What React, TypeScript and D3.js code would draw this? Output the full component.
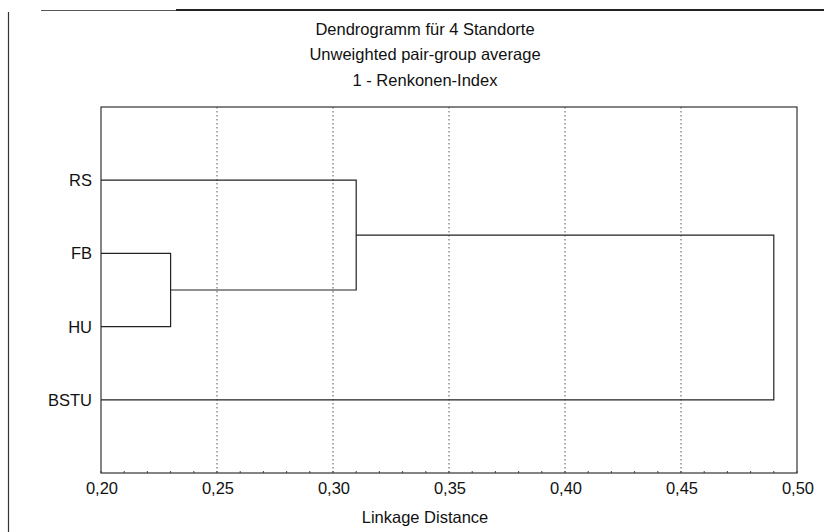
import React from "react";
import * as d3 from "d3";

const leaves = ["RS", "FB", "HU", "BSTU"];
// merges: child indices (leaves 0..3, merged clusters 4..), and linkage distance
const mergeA = [1, 0, 5];
const mergeB = [2, 4, 3];
const mergeHeight = [0.23, 0.31, 0.49];
const xTicks = [0.2, 0.25, 0.3, 0.35, 0.4, 0.45, 0.5];
const titles = ["Dendrogramm für 4 Standorte", "Unweighted pair-group average", "1 - Renkonen-Index"];
const xLabel = "Linkage Distance";

export default function App() {
  const W = 824, H = 532;
  const left = 101, right = 797, top = 107, bottom = 473;
  const x = d3.scaleLinear().domain([0.2, 0.5]).range([left, right]);
  const y = d3.scaleLinear().domain([-1, leaves.length]).range([top, bottom]);
  const fmt = (v: number) => d3.format(".2f")(v).replace(".", ",");
  const font = "'Liberation Sans', Arial, sans-serif";
  const fs = 16.5;

  // node positions
  const nodeX: number[] = leaves.map(() => x(0.2));
  const nodeY: number[] = leaves.map((_, i) => y(i));
  const paths: string[] = [];
  mergeHeight.forEach((h, i) => {
    const a = mergeA[i], b = mergeB[i];
    const mx = x(h);
    const p = d3.path();
    p.moveTo(nodeX[a], nodeY[a]);
    p.lineTo(mx, nodeY[a]);
    p.lineTo(mx, nodeY[b]);
    p.lineTo(nodeX[b], nodeY[b]);
    paths.push(p.toString());
    nodeX.push(mx);
    nodeY.push((nodeY[a] + nodeY[b]) / 2);
  });

  const minor = d3.range(0.2, 0.5001, 0.01);

  return (
    <svg width={W} height={H} style={{ position: "absolute", left: 0, top: 0, background: "#fff" }} fontFamily={font}>
      {/* outer frame fragments */}
      <line x1={41} x2={824} y1={10.5} y2={10.5} stroke="#555" strokeWidth={1} />
      <line x1={176} x2={824} y1={10} y2={10} stroke="#222" strokeWidth={2} />
      <line x1={8.5} x2={8.5} y1={12} y2={532} stroke="#333" strokeWidth={1.2} />

      {[34.5, 60, 85.5].map((yy, i) => (
        <text key={titles[i]} x={425} y={yy} textAnchor="middle" fontSize={fs} fill="#111">{titles[i]}</text>
      ))}

      {/* grid */}
      {xTicks.slice(1, -1).map((t) => (
        <line key={t} x1={x(t)} x2={x(t)} y1={top} y2={bottom} stroke="#555" strokeWidth={1} strokeDasharray="1.5,2.5" />
      ))}
      {/* minor ticks */}
      {minor.map((t, i) => (
        <line key={i} x1={x(t)} x2={x(t)} y1={bottom} y2={bottom - 2} stroke="#444" strokeWidth={1} />
      ))}

      {/* frame */}
      <rect x={left} y={top} width={right - left} height={bottom - top} fill="none" stroke="#333" strokeWidth={1.2} />

      {/* dendrogram */}
      {paths.map((d, i) => (
        <path key={i} d={d} fill="none" stroke="#222" strokeWidth={1.2} />
      ))}

      {/* leaf labels */}
      {leaves.map((l, i) => (
        <text key={l} x={92} y={y(i)} dy="0.36em" textAnchor="end" fontSize={fs} fill="#111">{l}</text>
      ))}

      {/* x tick labels */}
      {xTicks.map((t) => (
        <text key={t} x={x(t) + 1} y={494} textAnchor="middle" fontSize={fs} fill="#111">{fmt(t)}</text>
      ))}
      <text x={425} y={523} textAnchor="middle" fontSize={fs} fill="#111">{xLabel}</text>
    </svg>
  );
}
